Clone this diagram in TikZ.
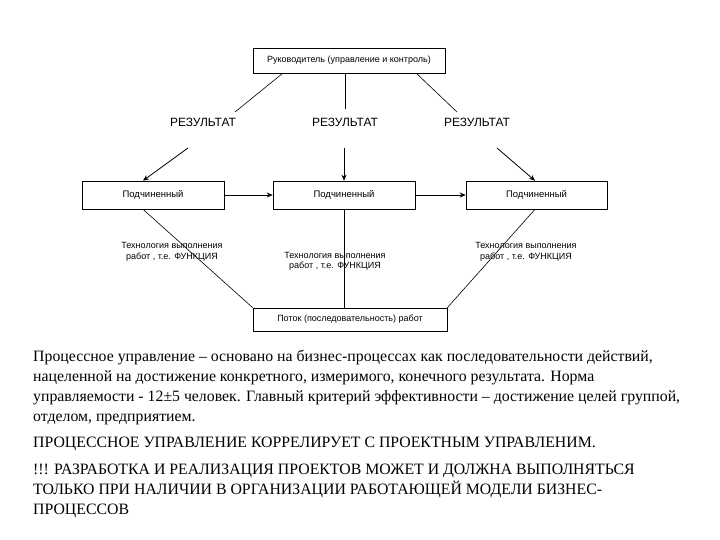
\documentclass[tikz,border=0pt]{standalone}
\usepackage{fontspec}
\setmainfont{Liberation Serif}
\newfontfamily\timesf{Liberation Serif}
\newfontfamily\arialf{Liberation Sans}
\usetikzlibrary{arrows.meta,calc}
\begin{document}
\begin{tikzpicture}[x=1pt,y=-1pt,
  box/.style={draw,line width=0.6pt,inner sep=0pt,font=\arialf\fontsize{9}{10}\selectfont},
  subbox/.style={box,minimum height=28,font=\arialf\fontsize{9.5}{10}\selectfont},
  res/.style={inner sep=1pt,font=\arialf\fontsize{12}{14}\selectfont},
  tech/.style={inner sep=0pt,align=center,font=\arialf\fontsize{9}{10.5}\selectfont},
  ln/.style={line width=0.6pt},
  arr/.style={line width=0.8pt,-{Stealth[length=6pt,width=5pt]}},
  para/.style={anchor=base west,inner sep=0pt,align=left,font=\timesf\fontsize{15.8}{20}\selectfont}]
\useasboundingbox (0,0) rectangle (720,540);
\node[box,minimum width=192,minimum height=25] (top) at (349,60.5) {Руководитель (управление и контроль)};
\node[res] (resL) at (203,122) {РЕЗУЛЬТАТ};
\node[res] (resM) at (345,122) {РЕЗУЛЬТАТ};
\node[res] (resR) at (477,122) {РЕЗУЛЬТАТ};
\node[subbox,minimum width=142] (subL) at (153,195) {Подчиненный};
\node[subbox,minimum width=142] (subM) at (344,195) {Подчиненный};
\node[subbox,minimum width=141] (subR) at (536.5,195) {Подчиненный};
\node[box,minimum width=194,minimum height=23] (bot) at (350,319.5) {Поток (последовательность) работ};
\node[tech] (techL) at (172,252) {Технология выполнения\\работ , т.е. ФУНКЦИЯ};
\node[tech] (techM) at (335,261.5) {Технология выполнения\\работ , т.е. ФУНКЦИЯ};
\node[tech] (techR) at (526,252) {Технология выполнения\\работ , т.е. ФУНКЦИЯ};
% top to results
\draw[ln] ($(top.south west)+(30,0)$) -- ($(resL)+(32,-10)$);
\draw[ln] (top.south -| resM) -- ($(resM)+(0,-13)$);
\draw[ln] ($(top.south east)+(-29,0)$) -- ($(resR)+(-20,-10)$);
% results to subordinates
\draw[arr] ($(resL)+(-15,26)$) -- ($(subL.north)+(-10,0)$);
\draw[arr] ($(resM)+(-1,26)$) -- (subM.north);
\draw[arr] ($(resR)+(20,26)$) -- ($(subR.north)+(-1.5,0)$);
% horizontal
\draw[arr] (subL.east) -- (subM.west);
\draw[arr] (subM.east) -- (subR.west);
% to bottom box
\draw[ln] ($(subL.south)+(-10,0)$) -- (bot.north west);
\draw[ln] (subM.south) -- (bot.north -| subM.south);
\draw[ln] ($(subR.south)+(-1.5,0)$) -- (bot.north east);
% paragraphs (base anchor = baseline of last line)
\node[para] (p1) at (33,421) {Процессное управление – основано на бизнес-процессах как последовательности действий,\\
нацеленной на достижение конкретного, измеримого, конечного результата. Норма\\
управляемости - 12±5 человек. Главный критерий эффективности – достижение целей группой,\\
отделом, предприятием.};
\node[para] (p2) at (33,447) {ПРОЦЕССНОЕ УПРАВЛЕНИЕ КОРРЕЛИРУЕТ С ПРОЕКТНЫМ УПРАВЛЕНИМ.};
\node[para] (p3) at (33,514) {!!! РАЗРАБОТКА И РЕАЛИЗАЦИЯ ПРОЕКТОВ МОЖЕТ И ДОЛЖНА ВЫПОЛНЯТЬСЯ\\
ТОЛЬКО ПРИ НАЛИЧИИ В ОРГАНИЗАЦИИ РАБОТАЮЩЕЙ МОДЕЛИ БИЗНЕС-\\
ПРОЦЕССОВ};
\end{tikzpicture}
\end{document}
